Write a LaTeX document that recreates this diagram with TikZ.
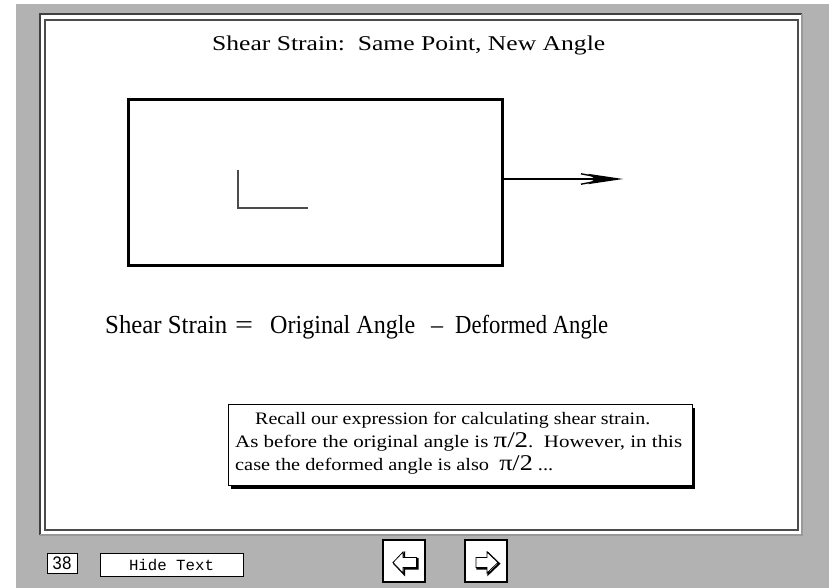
\documentclass[tikz,border=0pt]{standalone}
\usepackage{fontspec}
\setmainfont{Liberation Serif}
\newfontfamily\monof{Liberation Mono}
\usetikzlibrary{shadows}
\newcommand\fitw[2]{\resizebox{#1}{\height}{#2}}
\tikzset{
  eqtext/.style={anchor=base west, inner sep=0pt, font=\fontsize{26}{28}\selectfont},
  notetext/.style={anchor=base west, inner sep=0pt, font=\fontsize{17.5}{19}\selectfont},
  smallbtn/.style={draw, fill=white, line width=1pt, inner sep=0pt},
  navbtn/.style={draw, fill=white, line width=1.6pt, minimum size=42pt, inner sep=0pt},
  iconshadow/.style={draw=black, line width=1.8pt, line join=miter},
  iconface/.style={draw=black, fill=white, line width=0.8pt, line join=miter}
}
\begin{document}
\begin{tikzpicture}[x=1pt,y=-1pt]
\useasboundingbox (0,0) rectangle (829,588);
% patterned background
\fill[black!30] (16,4) rectangle (829,588);
% frame
\fill[white] (40,14) rectangle (802,535);
\draw[black!75, line width=1.5pt] (40,535) -- (40,14) -- (802,14);
\draw[black!40, line width=1.5pt] (802,14) -- (802,535) -- (40,535);
\draw[black!70, line width=1.5pt] (45,20) rectangle (798,530);

% title
\node[anchor=base west, inner sep=0pt, font=\fontsize{21}{23}\selectfont] (title) at (212,51)
  {\fitw{393pt}{Shear Strain:\ \ Same Point, New Angle}};

% block
\node[draw, line width=3pt, minimum width=374pt, minimum height=165pt, inner sep=0pt] (box) at (315,182.5) {};
\draw[black!70, line width=1.2pt] (238,170) -- (238,208) -- (308,208);

% force arrow
\coordinate (tip) at (623,179);
\coordinate (hb) at (596,179);
\draw[line width=1.8pt] (box.east |- tip) -- (hb);
\fill (588,173.8) -- (tip) -- (588,184.2) -- (595,179) -- cycle;
\draw[line width=1.4pt] (581,173.8) -- (598,177);
\draw[line width=1.4pt] (581,184.2) -- (598,181);
\fill (596,176) -- (612,178) -- (612,180) -- (596,182) -- cycle;

% equation
\node[eqtext] (e1) at (105,333) {\fitw{122pt}{Shear Strain}};
\node[eqtext] (e2) at (235,333) {\fitw{18pt}{=}};
\node[eqtext] (e3) at (270,333) {\fitw{145pt}{Original Angle}};
\node[eqtext] (e4) at (431,333) {\fitw{12pt}{–}};
\node[eqtext] (e5) at (455,333) {\fitw{153pt}{Deformed Angle}};

% note box
\node[draw, fill=white, line width=1pt, minimum width=464pt, minimum height=81pt, inner sep=0pt,
  drop shadow={shadow xshift=3pt, shadow yshift=-3pt, fill=black, opacity=1}] (note) at (460,445) {};
\node[notetext] (l1) at (255,424) {\fitw{395pt}{Recall our expression for calculating shear strain.}};
\node[notetext] (l2) at (235,447) {\fitw{447pt}{As before the original angle is {\fontsize{22.5}{22}\selectfont π/2}.\ \ However, in this}};
\node[notetext] (l3) at (235,470) {\fitw{318pt}{case the deformed angle is also\ \ {\fontsize{22.5}{22}\selectfont π/2} ...}};

% bottom controls
\node[smallbtn, minimum width=30pt, minimum height=20pt, font=\monof\fontsize{19}{19}\selectfont] (pg) at (62,563) {\fitw{20pt}{38}};
\node[smallbtn, minimum width=143pt, minimum height=23pt, font=\monof\fontsize{15.5}{16}\selectfont] (hide) at (171.5,564.5) {\fitw{85pt}{Hide Text}};
\node[navbtn] (prev) at (404,561) {};
\node[navbtn] (next) at (486,561) {};

% left icon
\draw[iconshadow] (394.2,563.7) -- (404.2,553.2) -- (404.2,558.7) -- (417.7,558.7) -- (417.7,568.7) -- (404.2,568.7) -- (404.2,574.2) -- cycle;
\draw[iconface] (393,562.5) -- (403,552) -- (403,557.5) -- (416.5,557.5) -- (416.5,567.5) -- (403,567.5) -- (403,573) -- cycle;
% right icon
\draw[iconshadow] (499.2,563.7) -- (488.2,553.2) -- (488.2,558.7) -- (477.2,558.7) -- (477.2,568.7) -- (488.2,568.7) -- (488.2,574.2) -- cycle;
\draw[iconface] (498,562.5) -- (487,552) -- (487,557.5) -- (476,557.5) -- (476,567.5) -- (487,567.5) -- (487,573) -- cycle;
\end{tikzpicture}
\end{document}
